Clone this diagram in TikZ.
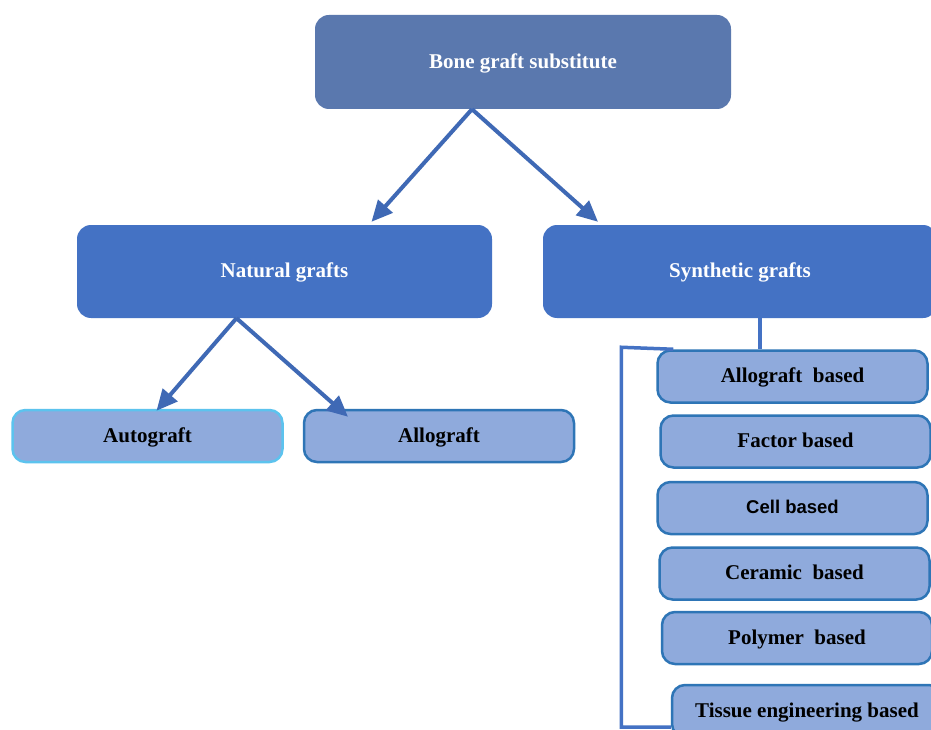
\documentclass[tikz,border=0pt]{standalone}
\usepackage{fontspec}
\setmainfont{Liberation Serif}
\newfontfamily\cellfont{Liberation Sans}
\usetikzlibrary{arrows.meta, positioning}
\usepackage{xcolor}
\definecolor{topblue}{HTML}{5A78AE}
\definecolor{midblue}{HTML}{4472C4}
\definecolor{lightblue}{HTML}{8FAADC}
\definecolor{edgeblue}{HTML}{2E75B6}
\definecolor{cyanedge}{HTML}{5CC3EE}
\definecolor{linkblue}{HTML}{3F69B5}

\begin{document}
\begin{tikzpicture}[x=1pt, y=-1pt,
    every node/.style={font=\bfseries\fontsize{21}{25}\selectfont},
    head/.style={fill=topblue, text=white, rounded corners=14pt,
                 minimum width=416pt, minimum height=94pt, text depth=2pt},
    group/.style={fill=midblue, text=white, rounded corners=14pt,
                  minimum width=415pt, minimum height=93pt, text depth=2pt},
    leaf/.style={draw=edgeblue, line width=2.5pt, fill=lightblue, rounded corners=13pt,
                 minimum width=270pt, minimum height=52pt, inner sep=0pt, text depth=2pt},
    arr/.style={draw=linkblue, line width=4pt,
                -{Triangle[length=21pt, width=19pt]}},
    link/.style={draw=midblue, line width=3.5pt}
]
    \useasboundingbox[fill=white] (0,0) rectangle (931,730);

    \node[head]  (bgs) at (523, 62)    {Bone graft substitute};
    \node[group] (nat) at (284.5, 271.5) {Natural grafts};
    \node[group, minimum width=394pt] (syn) at (740, 271.5) {Synthetic grafts};

    \node[leaf, draw=cyanedge] (auto) at (147.5, 436) {Autograft};
    \node[leaf]                (allo) at (439, 436)   {Allograft};

    % synthetic subtypes
    \node[leaf] (allob)  at (792.5, 376.5) {Allograft\ \ based};
    \node[leaf] (factor) at (795.5, 441.5) {Factor based};
    \node[leaf] (cell)   at (792.5, 508)   {\cellfont\fontsize{18.5}{22}\selectfont Cell based};
    \node[leaf] (cera)   at (794.5, 573.5) {Ceramic\ \ based};
    \node[leaf] (poly)   at (797, 638)     {Polymer\ \ based};
    \node[leaf] (tissue) at (807, 711)     {Tissue engineering based};

    \draw[arr] ([xshift=-51pt]bgs.south) -- ([xshift=87pt, yshift=3pt]nat.north);
    \draw[arr] ([xshift=-51pt]bgs.south) -- ([xshift=-142pt, yshift=3pt]syn.north);
    \draw[arr] ([xshift=-48pt]nat.south) -- ([xshift=9pt, yshift=-2pt]auto.north);
    \draw[arr] ([xshift=-48pt]nat.south) -- ([xshift=-91pt, yshift=-8pt]allo.north);

    \draw[link] ([xshift=20pt]syn.south) -- ([xshift=-32.5pt]allob.north);
    \draw[link] ([xshift=17pt]allob.north west) -- ++(-52,-2) |- ([yshift=-16pt]tissue.west);
\end{tikzpicture}
\end{document}
